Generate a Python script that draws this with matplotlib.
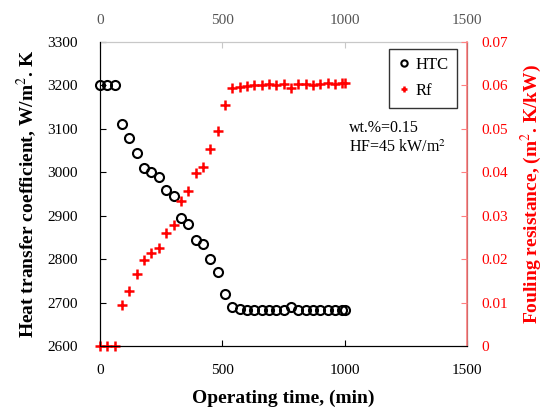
import matplotlib
matplotlib.use('Agg')
import matplotlib.pyplot as plt
import numpy as np

plt.rcParams['font.family'] = ['Liberation Serif', 'DejaVu Serif']
plt.rcParams['mathtext.fontset'] = 'stix'

# operating time (min)
time = [0, 30, 60, 90, 120, 150, 180, 210, 240, 270, 300, 330, 360, 390, 420, 450, 480,
        510, 540, 570, 600, 630, 660, 690, 720, 750, 780, 810, 840, 870, 900, 930, 960, 990, 1000]
# heat transfer coefficient, W/m2.K
htc = [3200, 3200, 3200, 3110, 3080, 3045, 3010, 3000, 2990, 2960, 2945, 2895, 2880, 2845, 2835,
       2800, 2770, 2720, 2690, 2686, 2684, 2683, 2683, 2683, 2683, 2683, 2690, 2683, 2683, 2683,
       2683, 2683, 2683, 2683, 2683]
# fouling resistance, m2.K/kW
rf = [0, 0, 0, 0.0095, 0.0126, 0.0165, 0.0199, 0.0214, 0.0225, 0.0260, 0.0279, 0.0335, 0.0356,
      0.0398, 0.0412, 0.0454, 0.0494, 0.0555, 0.0593, 0.0597, 0.0599, 0.0602, 0.0602, 0.0603,
      0.0602, 0.0603, 0.0593, 0.0603, 0.0603, 0.0602, 0.0603, 0.0606, 0.0603, 0.0606, 0.0606]

red = '#ff0000'
pink = '#ff8080'

fig, ax = plt.subplots(figsize=(5.47, 4.11), dpi=100)
fig.subplots_adjust(left=0.183, right=0.854, bottom=0.158, top=0.898)
ax2 = ax.twinx()

l1, = ax.plot(time, htc, 'o', mfc='none', mec='black', ms=6.5, mew=1.5, label='HTC', clip_on=False)
l2, = ax2.plot(time, rf, '+', color=red, ms=7, mew=1.8, label='Rf', clip_on=False)

ax.set_xlim(0, 1500)
ax.set_ylim(2600, 3300)
ax2.set_ylim(0, 0.07)
ax.set_xticks([0, 500, 1000, 1500])
ax.set_yticks(np.arange(2600, 3301, 100))
ax2.set_yticks(np.arange(0, 0.071, 0.01))
ax2.set_yticklabels(['0', '0.01', '0.02', '0.03', '0.04', '0.05', '0.06', '0.07'])

ax.tick_params(axis='both', direction='in', labelsize=11, length=4)
ax.tick_params(axis='y', pad=16)
ax.tick_params(axis='x', pad=13)
ax2.tick_params(axis='y', direction='in', colors=pink, labelcolor=red, labelsize=11, length=4, pad=10)

top = ax.secondary_xaxis('top')
top.set_xticks([0, 500, 1000, 1500])
top.tick_params(direction='in', colors='#c8c8c8', labelcolor='#555555', labelsize=11, length=4, pad=11)
top.spines['top'].set_color('#c8c8c8')
ax.spines['top'].set_color('#c8c8c8')
ax2.spines['top'].set_visible(False)
ax2.spines['right'].set_color(pink)
ax2.spines['right'].set_linewidth(1.2)

ax.set_xlabel('Operating time, (min)', fontsize=14, fontweight='bold', labelpad=9)
ax.set_ylabel('Heat transfer coefficient, W/m$^2$. K', fontsize=14, fontweight='bold', labelpad=6)
ax2.set_ylabel('Fouling resistance, (m$^2$. K/kW)', fontsize=14, fontweight='bold', color=red, labelpad=8)

leg = ax2.legend(handles=[l1, l2], loc='upper right', bbox_to_anchor=(0.973, 0.977),
                 borderaxespad=0, fontsize=12, fancybox=False, edgecolor='black',
                 handlelength=0.8, handletextpad=0.3, borderpad=0.5, labelspacing=0.6,
                 markerscale=0.7)
leg.get_frame().set_linewidth(1.0)

ax2.text(0.678, 0.685, 'wt.%=0.15\nHF=45 kW/m$^2$', transform=ax.transAxes,
         fontsize=11.5, va='center', ha='left', linespacing=1.3)

fig.savefig('out.png', dpi=100)
